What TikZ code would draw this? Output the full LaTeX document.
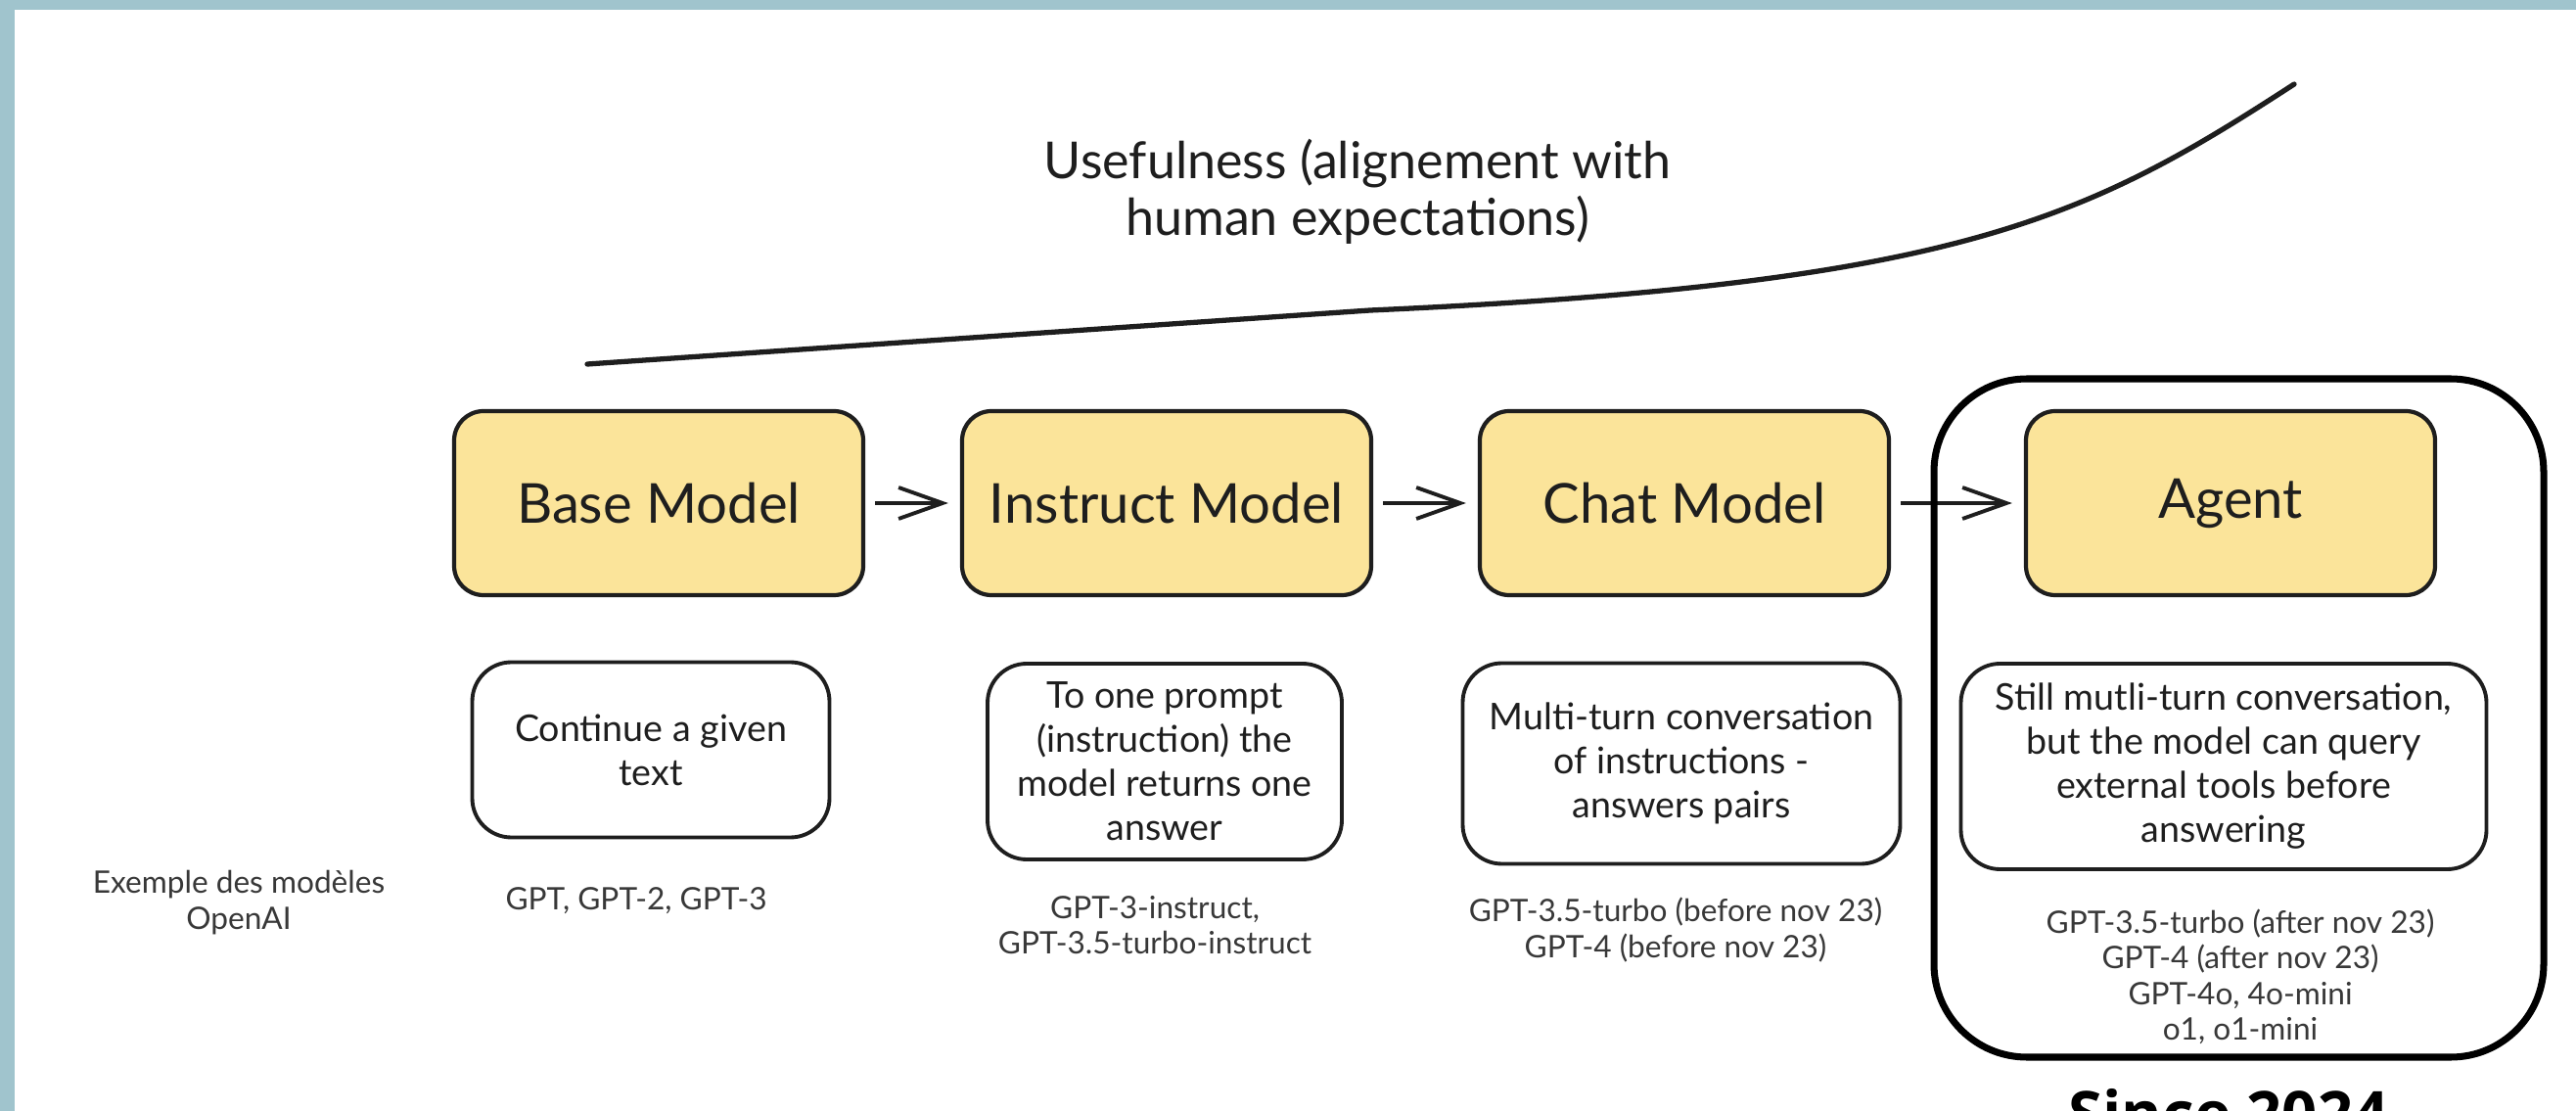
\documentclass[tikz,border=0pt]{standalone}
\usepackage{fontspec}
\setmainfont{Lato}
\newfontfamily\sincefont{Open Sans}
\usetikzlibrary{arrows.meta}

\definecolor{frameblue}{HTML}{A0C4CD}
\definecolor{stageyellow}{HTML}{FBE49A}
\definecolor{ink}{HTML}{1E1E1E}

\begin{document}
\begin{tikzpicture}
\pgfmathsetmacro{\yStage}{-5.14}

\tikzstyle{stage}=[draw=ink,line width=1.2pt,fill=stageyellow,rounded corners=3mm,minimum width=4.18cm,minimum height=1.88cm,text=ink,font=\fontsize{16}{19}\selectfont]
\tikzstyle{desc}=[draw=ink,line width=1.1pt,rounded corners=4mm,align=center,text=ink,inner sep=1mm,font=\fontsize{10.7}{12.8}\selectfont]
\tikzstyle{examples}=[align=center,text=black!78,inner sep=0pt,font=\fontsize{9}{10.4}\selectfont]
\tikzstyle{arr}=[-{Straight Barb[length=4.5mm,width=3.2mm]},line width=1.1pt,ink,shorten <=1mm,shorten >=1.2mm]

% frame
\fill[frameblue] (0,0) rectangle (26.32,-11.35);
\fill[white] (0.15,-0.10) rectangle (26.32,-11.35);
\useasboundingbox (0,0) rectangle (26.32,-11.35);

% usefulness curve
\draw[line width=1.5pt,ink,line cap=round] (6.00,-3.72) -- (14.00,-3.17) .. controls (20.00,-2.90) and (21.30,-2.25) .. (23.44,-0.86);
\node[align=center,text=ink,font=\fontsize{14.8}{16.5}\selectfont] (useful) at (13.87,-1.96) {Usefulness (alignement with\\human expectations)};

% stages
\node[stage] (base) at (6.73,\yStage) {Base Model};
\node[stage] (instruct) at (11.92,\yStage) {Instruct Model};
\node[stage] (chat) at (17.21,\yStage) {Chat Model};
\node[stage] (agent) at (22.79,\yStage) {Agent};

\draw[arr] (base) -- (instruct);
\draw[arr] (instruct) -- (chat);
\draw[arr] (chat) -- (agent);

% descriptions
\node[desc,minimum width=3.65cm,minimum height=1.79cm] (baseDesc) at (6.65,-7.66) {Continue a given\\text};
\node[desc,minimum width=3.62cm,minimum height=2.00cm] (instructDesc) at (11.90,-7.78) {To one prompt\\(instruction) the\\model returns one\\answer};
\node[desc,minimum width=4.47cm,minimum height=2.05cm] (chatDesc) at (17.18,-7.80) {Multi-turn conversation\\of instructions -\\answers pairs};
\node[desc,minimum width=5.37cm,minimum height=2.10cm] (agentDesc) at (22.72,-7.83) {Still mutli-turn conversation,\\but the model can query\\external tools before\\answering};

% OpenAI models
\node[examples] (exLabel) at (2.44,-9.22) {Exemple des modèles\\OpenAI};
\node[examples] (baseEx) at (6.50,-9.20) {GPT, GPT-2, GPT-3};
\node[examples] (instructEx) at (11.80,-9.45) {GPT-3-instruct,\\GPT-3.5-turbo-instruct};
\node[examples] (chatEx) at (17.12,-9.50) {GPT-3.5-turbo (before nov 23)\\GPT-4 (before nov 23)};
\node[examples] (agentEx) at (22.89,-9.98) {GPT-3.5-turbo (after nov 23)\\GPT-4 (after nov 23)\\GPT-4o, 4o-mini\\o1, o1-mini};

% agent era
\node[draw=black,line width=2pt,rounded corners=9.5mm,minimum width=6.23cm,minimum height=6.93cm] (era) at (22.875,-7.335) {};
\node[anchor=north,inner sep=0pt,font=\sincefont\bfseries\fontsize{18}{20}\selectfont] (since) at (22.77,-11.12) {Since 2024};
\end{tikzpicture}
\end{document}
